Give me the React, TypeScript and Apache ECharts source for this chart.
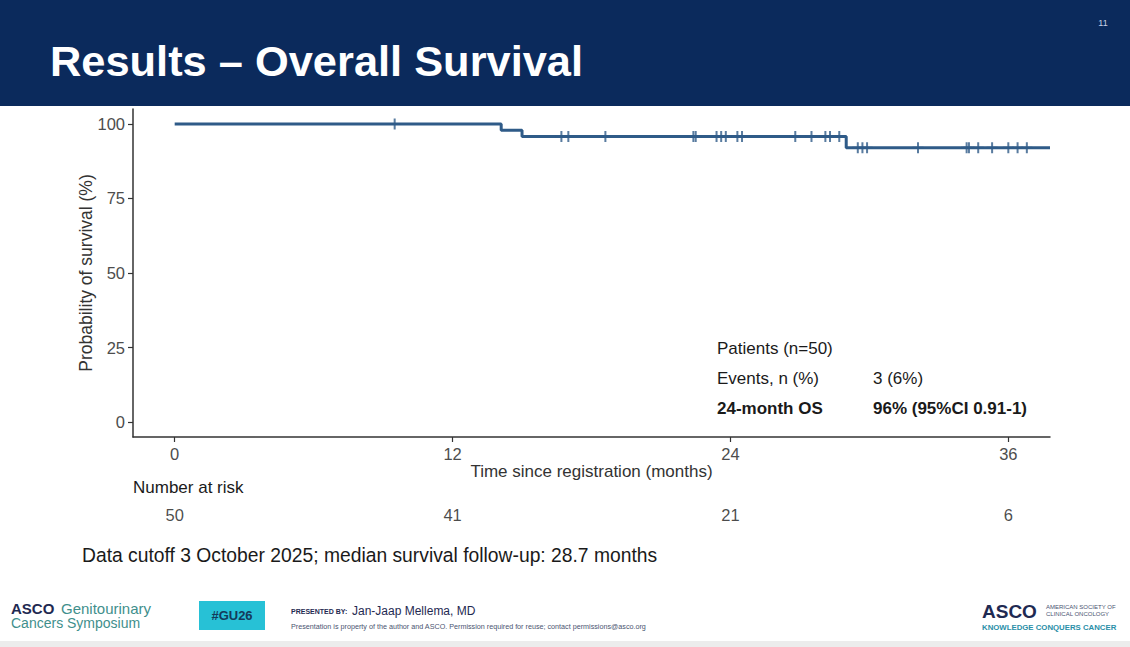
import React, { useEffect, useRef } from "react";
import * as echarts from "echarts";

// Kaplan-Meier step points (months, survival %)
const stepTimes = [0, 14.1, 15.0, 29.0, 37.8];
const stepSurvival = [100, 97.9, 95.8, 92.0, 92.0];

// Censor marks (months)
const censorTimes = [
  9.5, 16.7, 17.0, 18.6, 22.4, 22.5, 23.4, 23.6, 23.8, 24.3, 24.5, 26.8, 27.5,
  28.1, 28.3, 28.7, 29.5, 29.7, 29.9, 32.1, 34.2, 34.3, 34.7, 35.3, 36.0, 36.4,
  36.8,
];

// Axis ticks
const xTicks = [0, 12, 24, 36];
const yTicks = [0, 25, 50, 75, 100];

// Number at risk
const riskTimes = [0, 12, 24, 36];
const riskCounts = [50, 41, 21, 6];

function survivalAt(t: number): number {
  let s = stepSurvival[0];
  for (let i = 0; i < stepTimes.length; i++) {
    if (stepTimes[i] <= t) s = stepSurvival[i];
  }
  return s;
}

const LINE = "#2f5b88";
const FONT = "'Liberation Sans', Arial, sans-serif";

export default function App() {
  const ref = useRef<HTMLDivElement>(null);
  useEffect(() => {
    if (!ref.current) return;
    const chart = echarts.init(ref.current, undefined, { renderer: "svg" });
    const plusPath = "path://M0,-1L0,1M-1,0L1,0";
    const option: any = {
      animation: false,
      backgroundColor: "#ffffff",
      textStyle: { fontFamily: FONT },
      grid: [
        { left: 133, top: 109, width: 917, height: 328, containLabel: false },
        { left: 133, top: 500, width: 917, height: 30, containLabel: false },
      ],
      xAxis: [
        {
          type: "value",
          gridIndex: 0,
          min: -1.8,
          max: 37.8,
          splitLine: { show: false },
          axisLine: { show: true, onZero: false, lineStyle: { color: "#333", width: 1.5 } },
          axisTick: { show: true, length: 5, customValues: xTicks, lineStyle: { color: "#333", width: 1.2 } },
          axisLabel: { customValues: xTicks, fontSize: 16.5, color: "#4d4d4d", margin: 8, fontFamily: FONT },
          name: "Time since registration (months)",
          nameLocation: "middle",
          nameGap: 26,
          nameMoveOverlap: false,
          nameTextStyle: { fontSize: 17, color: "#333", fontFamily: FONT },
        },
        {
          type: "value",
          gridIndex: 1,
          min: -1.8,
          max: 37.8,
          show: false,
        },
      ],
      yAxis: [
        {
          type: "value",
          gridIndex: 0,
          min: -5,
          max: 105,
          splitLine: { show: false },
          axisLine: { show: true, onZero: false, lineStyle: { color: "#333", width: 1.5 } },
          axisTick: { show: true, length: 5, customValues: yTicks, lineStyle: { color: "#333", width: 1.2 } },
          axisLabel: { customValues: yTicks, fontSize: 16.5, color: "#4d4d4d", margin: 8, fontFamily: FONT },
          name: "Probability of survival (%)",
          nameLocation: "middle",
          nameGap: 38,
          nameMoveOverlap: false,
          nameRotate: 90,
          nameTextStyle: { fontSize: 17.5, color: "#333", fontFamily: FONT },
        },
        { type: "value", gridIndex: 1, min: -1, max: 1, show: false },
      ],
      series: [
        {
          type: "line",
          xAxisIndex: 0,
          yAxisIndex: 0,
          step: "end",
          data: stepTimes.map((t, i) => [t, stepSurvival[i]]),
          showSymbol: false,
          symbol: "none",
          lineStyle: { color: LINE, width: 3 },
          z: 2,
        },
        {
          type: "scatter",
          xAxisIndex: 0,
          yAxisIndex: 0,
          data: censorTimes.map((t) => [t, survivalAt(t)]),
          symbol: plusPath,
          symbolSize: 11,
          itemStyle: { color: "none", borderColor: LINE, borderWidth: 2 },
          z: 3,
        },
        {
          type: "scatter",
          xAxisIndex: 1,
          yAxisIndex: 1,
          data: riskTimes.map((t, i) => [t, 0, riskCounts[i]]),
          symbol: "circle",
          symbolSize: 1,
          itemStyle: { color: "rgba(0,0,0,0)" },
          label: {
            show: true,
            position: "inside",
            formatter: (p: any) => String(p.value[2]),
            fontSize: 16.5,
            color: "#1a1a1a",
            fontFamily: FONT,
          },
        },
      ],
      graphic: [
        { type: "rect", left: 0, top: 0, shape: { width: 1130, height: 106 }, style: { fill: "#0b2a5c" }, z: 0 },
        {
          type: "text",
          x: 50,
          y: 61,
          style: { text: "Results – Overall Survival", fill: "#ffffff", font: `bold 43.4px ${FONT}`, verticalAlign: "middle" },
        },
        { type: "text", x: 1103, y: 23, style: { text: "11", fill: "#c8d2e6", font: `9px ${FONT}`, align: "center", verticalAlign: "middle" } },
        // annotation block
        { type: "text", x: 717, y: 348, style: { text: "Patients (n=50)", fill: "#1a1a1a", font: `17px ${FONT}`, verticalAlign: "middle" } },
        { type: "text", x: 717, y: 378, style: { text: "Events, n (%)", fill: "#1a1a1a", font: `17px ${FONT}`, verticalAlign: "middle" } },
        { type: "text", x: 873, y: 378, style: { text: "3 (6%)", fill: "#1a1a1a", font: `17px ${FONT}`, verticalAlign: "middle" } },
        { type: "text", x: 717, y: 408, style: { text: "24-month OS", fill: "#1a1a1a", font: `bold 17px ${FONT}`, verticalAlign: "middle" } },
        { type: "text", x: 873, y: 408, style: { text: "96% (95%CI 0.91-1)", fill: "#1a1a1a", font: `bold 17px ${FONT}`, verticalAlign: "middle" } },
        // number at risk title
        { type: "text", x: 133, y: 487, style: { text: "Number at risk", fill: "#1a1a1a", font: `17px ${FONT}`, verticalAlign: "middle" } },
        // data cutoff
        { type: "text", x: 82, y: 555, style: { text: "Data cutoff 3 October 2025; median survival follow-up: 28.7 months", fill: "#1a1a1a", font: `19.3px ${FONT}`, verticalAlign: "middle" } },
        // footer
        { type: "text", x: 11, y: 608, style: { text: "ASCO", fill: "#1f2a52", font: `bold 15px ${FONT}`, verticalAlign: "middle" } },
        { type: "text", x: 61, y: 608, style: { text: "Genitourinary", fill: "#3f8f8c", font: `15px ${FONT}`, verticalAlign: "middle" } },
        { type: "text", x: 11, y: 623, style: { text: "Cancers Symposium", fill: "#3f8f8c", font: `14px ${FONT}`, verticalAlign: "middle" } },
        { type: "rect", shape: { x: 199, y: 601, width: 66, height: 29 }, style: { fill: "#27c1d6" } },
        { type: "text", x: 232, y: 615.5, style: { text: "#GU26", fill: "#143a5a", font: `bold 13px ${FONT}`, align: "center", verticalAlign: "middle" } },
        { type: "text", x: 291, y: 611, style: { text: "PRESENTED BY:", fill: "#1f2a52", font: `bold 7px ${FONT}`, verticalAlign: "middle" } },
        { type: "text", x: 352, y: 611, style: { text: "Jan-Jaap Mellema, MD", fill: "#1f2a52", font: `12px ${FONT}`, verticalAlign: "middle" } },
        { type: "text", x: 291, y: 626, style: { text: "Presentation is property of the author and ASCO. Permission required for reuse; contact permissions@asco.org", fill: "#4a5470", font: `7.2px ${FONT}`, verticalAlign: "middle" } },
        { type: "text", x: 982, y: 611, style: { text: "ASCO", fill: "#1f2a52", font: `bold 19px ${FONT}`, verticalAlign: "middle" } },
        { type: "text", x: 1046, y: 607, style: { text: "AMERICAN SOCIETY OF", fill: "#4a5470", font: `6px ${FONT}`, verticalAlign: "middle" } },
        { type: "text", x: 1046, y: 614, style: { text: "CLINICAL ONCOLOGY", fill: "#4a5470", font: `6px ${FONT}`, verticalAlign: "middle" } },
        { type: "text", x: 982, y: 627, style: { text: "KNOWLEDGE CONQUERS CANCER", fill: "#2a8fa8", font: `bold 7.8px ${FONT}`, verticalAlign: "middle" } },
        { type: "rect", shape: { x: 0, y: 641, width: 1130, height: 6 }, style: { fill: "#ececec" } },
      ],
    };
    chart.setOption(option);
    return () => chart.dispose();
  }, []);
  return (
    <div
      ref={ref}
      style={{ position: "absolute", left: 0, top: 0, width: 1130, height: 647 }}
    />
  );
}
